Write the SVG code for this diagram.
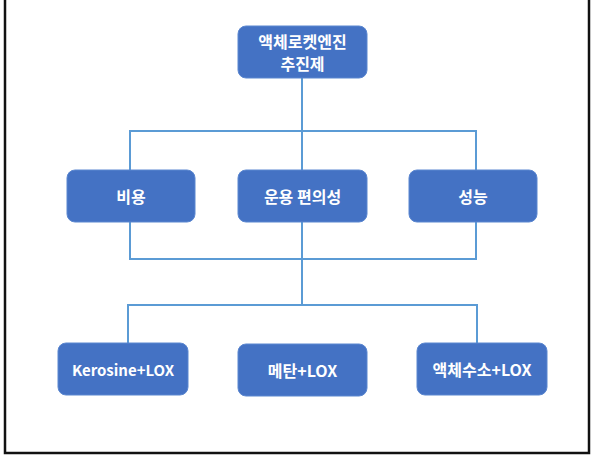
<svg xmlns="http://www.w3.org/2000/svg" width="594" height="474" viewBox="0 0 594 474">
<style>
.node rect{fill:#4472C4;stroke:#5B87D0;stroke-width:1}
.node text{fill:#fff;font-family:"Noto Sans CJK KR","Noto Sans",sans-serif;font-weight:bold;font-size:16px;text-anchor:middle;dominant-baseline:central}
.conn path{fill:none;stroke:#5B9BD5;stroke-width:2}
</style>
<rect x="0" y="0" width="594" height="474" fill="#fff"/>
<rect x="5" y="-3" width="584" height="456" fill="none" stroke="#111" stroke-width="2.5"/>
<g id="connectors" class="conn">
<path d="M302,78 V305"/>
<path d="M130,170 V131 H476 V170"/>
<path d="M130,222 V259 H476 V222"/>
<path d="M128,343 V305 H477 V343"/>
</g>
<g id="n-root" class="node"><rect x="238" y="26" width="129" height="52" rx="8"/><text x="302.5" y="41">액체로켓엔진</text><text x="302.5" y="63">추진제</text></g>
<g id="n-cost" class="node"><rect x="67" y="170" width="128" height="52" rx="8"/><text x="131" y="196">비용</text></g>
<g id="n-ops" class="node"><rect x="238" y="170" width="129" height="52" rx="8"/><text x="302.5" y="196">운용 편의성</text></g>
<g id="n-perf" class="node"><rect x="409" y="170" width="128" height="52" rx="8"/><text x="473" y="196">성능</text></g>
<g id="n-kero" class="node"><rect x="58" y="343" width="130" height="52" rx="8"/><text x="123" y="369" style="font-size:15px">Kerosine+LOX</text></g>
<g id="n-meth" class="node"><rect x="238" y="344" width="129" height="52" rx="8"/><text x="302.5" y="370">메탄+LOX</text></g>
<g id="n-h2" class="node"><rect x="417" y="343" width="130" height="52" rx="8"/><text x="482" y="369">액체수소+LOX</text></g>
</svg>
